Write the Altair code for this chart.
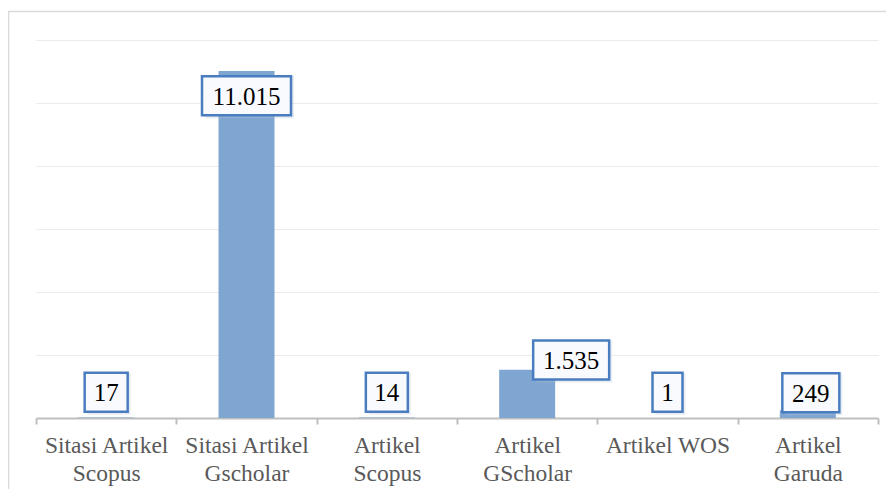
import altair as alt
import pandas as pd

categories = ["Sitasi Artikel\nScopus", "Sitasi Artikel\nGscholar", "Artikel\nScopus",
              "Artikel\nGScholar", "Artikel WOS", "Artikel\nGaruda"]
values = [17, 11015, 14, 1535, 1, 249]
labels = ["17", "11.015", "14", "1.535", "1", "249"]
label_center = [820, 10230, 820, 1840, 820, 800]
label_shift = [0, 0, 0, 44, 0, 3]
box_width = [43, 89, 42, 76, 30, 57]
grid_values = [2000, 4000, 6000, 8000, 10000, 12000]

HALF = 620

df = pd.DataFrame({
    "cat": categories,
    "value": values,
    "label": labels,
    "center": label_center,
    "shift": label_shift,
    "bw": box_width,
})
df["lo"] = df["center"] - HALF
df["hi"] = df["center"] + HALF

xscale = alt.Scale(paddingInner=0, paddingOuter=0)
xaxis = alt.Axis(
    title=None, labelAngle=0,
    labelExpr="split(datum.label, '\\n')",
    tickBand="extent", grid=False,
)
X = alt.X("cat:N", sort=categories, scale=xscale, axis=xaxis)
yscale = alt.Scale(domain=[0, 12000], nice=False, zero=True)
yaxis = alt.Axis(title=None, values=grid_values, labels=False, ticks=False,
                 domain=False, grid=True)

frame = alt.Chart(alt.Data(values=[{}])).mark_rect(
    fillOpacity=0, stroke="#D9D9D9", strokeWidth=1.5
).encode(
    x=alt.value(-27.5), x2=alt.value(900), y=alt.value(-28.5), y2=alt.value(600)
)

bars = alt.Chart(df).mark_bar(size=56, color="#7FA5D1").encode(
    x=X, y=alt.Y("value:Q", scale=yscale, axis=yaxis)
)

layers = [frame, bars]
for s in sorted(set(label_shift)):
    sub = alt.Chart(df).transform_filter(alt.datum.shift == s)
    shadow = sub.mark_bar(
        color="#B4C2D6", opacity=0.3, xOffset=s + 3, yOffset=3
    ).encode(
        x=X, y=alt.Y("lo:Q", scale=yscale, axis=yaxis), y2="hi:Q",
        size=alt.Size("bw:Q", scale=None),
    )
    box = sub.mark_bar(
        color="#F8FAFD", stroke="#4A7DC0", strokeWidth=2.5, xOffset=s
    ).encode(
        x=X, y=alt.Y("lo:Q", scale=yscale, axis=yaxis), y2="hi:Q",
        size=alt.Size("bw:Q", scale=None),
    )
    text = sub.mark_text(
        font="Liberation Serif", fontSize=25, color="#000000",
        baseline="middle", align="center", dx=s, dy=1
    ).encode(
        x=X, y=alt.Y("center:Q", scale=yscale, axis=yaxis), text="label:N"
    )
    layers += [shadow, box, text]

chart = alt.layer(*layers).properties(
    width=842, height=378,
    autosize=alt.AutoSizeParams(type="none"),
    padding={"left": 28, "top": 32, "right": 8, "bottom": 71},
).configure_view(strokeWidth=0).configure_axisX(
    labelFont="Liberation Serif", labelFontSize=23.5, labelColor="#595959",
    labelLineHeight=28, labelPadding=9,
    domainColor="#BFBFBF", domainWidth=2, tickColor="#BFBFBF", tickWidth=2,
    tickSize=6,
).configure_axisY(gridColor="#EBEBEB", gridWidth=1)

chart.save("out.html", embed_options={"renderer": "svg", "actions": False})
